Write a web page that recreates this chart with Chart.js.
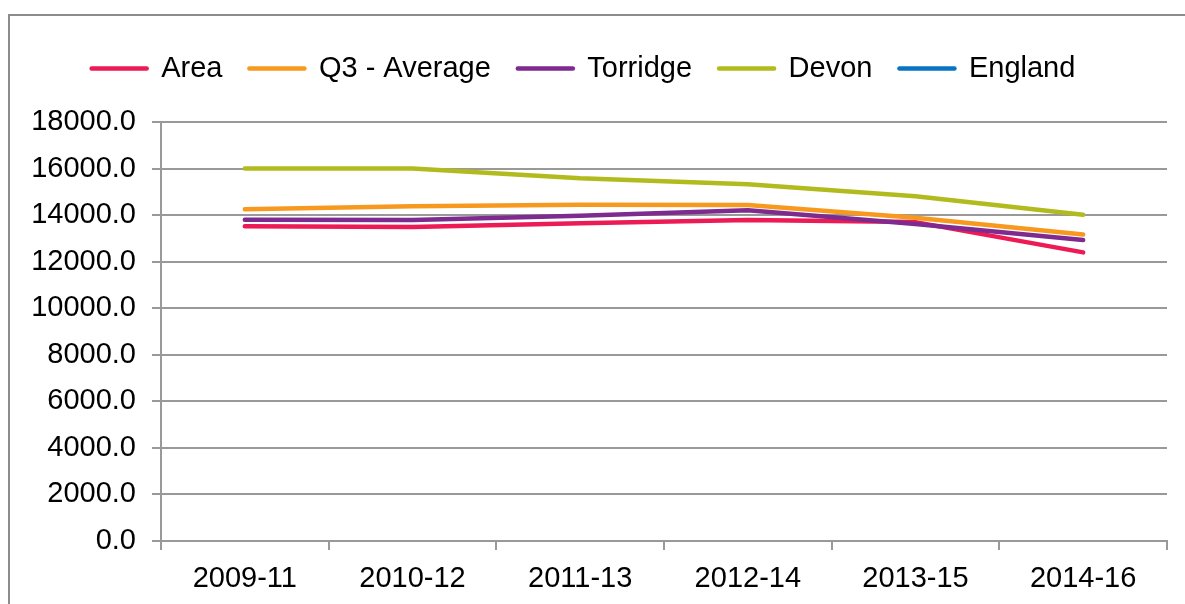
<!DOCTYPE html>
<html>
<head>
<meta charset="utf-8">
<script src="https://cdn.jsdelivr.net/npm/chart.js@4.4.1/dist/chart.umd.min.js"></script>
<style>
  html, body { margin: 0; padding: 0; background: #fff; overflow: hidden; }
  #frame { position: absolute; left: 8px; top: 14px; width: 1300px; height: 700px; border: 2px solid #8c8c8c; }
  #wrap { position: absolute; left: 0; top: 0; width: 1185px; height: 604px; }
</style>
</head>
<body>
<div id="frame"></div>
<div id="wrap"><canvas id="chart"></canvas></div>
<script>
  const periods = ["2009-11", "2010-12", "2011-13", "2012-14", "2013-15", "2014-16"];
  const areaValues = [13520, 13490, 13650, 13790, 13700, 12400];
  const q3AverageValues = [14250, 14380, 14440, 14430, 13890, 13170];
  const torridgeValues = [13800, 13790, 13970, 14210, 13620, 12930];
  const devonValues = [16000, 16000, 15580, 15330, 14810, 14020];
  const englandValues = [null, null, null, null, null, null];
  const yTicks = [0, 2000, 4000, 6000, 8000, 10000, 12000, 14000, 16000, 18000];

  const font = "'Liberation Sans', Arial, sans-serif";
  const grey = "#999999";

  function series(label, data, color, order) {
    return {
      label: label, data: data, borderColor: color, backgroundColor: color,
      borderWidth: 4.5, pointRadius: 0, tension: 0, order: order,
      borderCapStyle: "round", borderJoinStyle: "round", spanGaps: false
    };
  }

  // extra space under the legend
  const legendGap = {
    id: "legendGap",
    beforeInit: function(chart) {
      const fit = chart.legend.fit;
      chart.legend.fit = function() { fit.call(this); this.height += 29; };
    }
  };

  new Chart(document.getElementById("chart"), {
    type: "line",
    data: {
      labels: periods,
      datasets: [
        series("Area", areaValues, "#ec1a55", 5),
        series("Q3 - Average", q3AverageValues, "#f7991f", 4),
        series("Torridge", torridgeValues, "#7e2a8e", 3),
        series("Devon", devonValues, "#b2bb1e", 2),
        series("England", englandValues, "#0a74c4", 1)
      ]
    },
    options: {
      responsive: true, maintainAspectRatio: false, animation: false,
      layout: { padding: { top: 27, right: 18, bottom: 0, left: 0 } },
      plugins: {
        tooltip: { enabled: false },
        legend: {
          position: "top",
          labels: {
            color: "#000", font: { family: font, size: 29 },
            usePointStyle: true, pointStyle: "line", pointStyleWidth: 55,
            padding: 27,
            sort: function(a, b) { return a.datasetIndex - b.datasetIndex; },
            generateLabels: function(chart) {
              const items = Chart.defaults.plugins.legend.labels.generateLabels(chart);
              items.forEach(function(it) { it.lineWidth = 4.5; it.lineCap = "round"; it.pointStyle = "line"; });
              return items;
            }
          }
        }
      },
      scales: {
        x: {
          offset: true,
          border: { color: grey, width: 2 },
          grid: { offset: true, drawOnChartArea: false, drawTicks: true, tickLength: 9, color: grey, lineWidth: 2 },
          ticks: { color: "#000", font: { family: font, size: 29 }, padding: 12, maxRotation: 0 },
          afterFit: function(scale) { scale.height = 63; }
        },
        y: {
          min: 0, max: 18000,
          border: { color: grey, width: 2 },
          grid: { color: grey, lineWidth: 2, tickLength: 9 },
          afterBuildTicks: function(scale) { scale.ticks = yTicks.map(function(v) { return { value: v }; }); },
          ticks: {
            color: "#000", font: { family: font, size: 29 }, padding: 16,
            callback: function(v) { return Number(v).toFixed(1); }
          },
          afterFit: function(scale) { scale.width = 161; }
        }
      }
    },
    plugins: [legendGap]
  });
</script>
</body>
</html>
